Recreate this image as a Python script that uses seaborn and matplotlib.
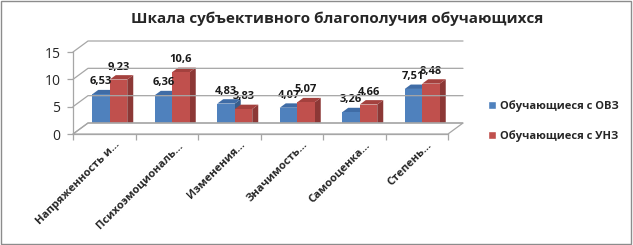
import numpy as np
import pandas as pd
import matplotlib
matplotlib.use("Agg")
import matplotlib.pyplot as plt
from matplotlib.patches import Polygon, Rectangle, Patch
from matplotlib.lines import Line2D
import matplotlib.transforms as mtransforms
import seaborn as sns

categories = ["Напряженность и...", "Психоэмоциональ...", "Изменения...",
              "Значимость...", "Самооценка...", "Степень..."]
series = ["Обучающиеся с ОВЗ", "Обучающиеся с УНЗ"]
ovz = [6.53, 6.36, 4.83, 4.07, 3.26, 7.51]
unz = [9.23, 10.6, 3.83, 5.07, 4.66, 8.48]
y_ticks = [0, 5, 10, 15]

BLUE, RED = "#4F81BD", "#C0504D"
SIDE = {BLUE: "#385D8A", RED: "#8C3836"}
TOP = {BLUE: "#3F6CA6", RED: "#A4413E"}
GRID = "#a6a6a6"

df = pd.DataFrame({
    "cat": categories * 2,
    "group": [series[0]] * len(ovz) + [series[1]] * len(unz),
    "value": ovz + unz,
})

sns.set_style("white")
plt.rcParams['font.family'] = ['Open Sans', 'DejaVu Sans']

fig = plt.figure(figsize=(6.33, 2.45), dpi=100)
ax = fig.add_axes([73 / 633, 1 - 134 / 245, 375 / 633, 82 / 245])
sns.barplot(data=df, x="cat", y="value", hue="group", palette=[BLUE, RED],
            width=0.56, ax=ax, legend=False, saturation=1, edgecolor="none")

xl, xr = -0.5, len(categories) - 0.5
ax.set_xlim(xl, xr)
ax.set_ylim(0, 15)
ax.patch.set_alpha(0)
fig.canvas.draw()

# 3D-ish walls: depth offsets in pixels
WD = np.array([15, 11])    # wall depth
BD = np.array([6, 4.4])    # bar depth
BO = np.array([5.5, 4])    # bars sit mid-depth on the floor
T = ax.transData
bar_shift = mtransforms.ScaledTranslation(BO[0] / 100, BO[1] / 100, fig.dpi_scale_trans)

for v in y_ticks:
    fl = T.transform((xl, v))
    bl = fl + WD
    br = T.transform((xr, v)) + WD
    pts = np.array([fl, bl, br])
    fig.add_artist(Line2D(pts[:, 0], pts[:, 1], transform=None, color=GRID, lw=0.9, zorder=0.5))

# floor
f0 = T.transform((xl, 0)); f1 = T.transform((xr, 0))
fig.add_artist(Polygon([f0, f1, f1 + WD, f0 + WD], closed=True, transform=None,
                       fc="white", ec=GRID, lw=0.9, zorder=0.4))

# bar fronts, sides and tops
for cont, col in zip(ax.containers, [BLUE, RED]):
    for bar in cont:
        x0, x1 = bar.get_x(), bar.get_x() + bar.get_width()
        h = bar.get_height()
        p10 = T.transform((x1, 0)) + BO
        p0h = T.transform((x0, h)) + BO
        p1h = T.transform((x1, h)) + BO
        side = Polygon([p10, p10 + BD, p1h + BD, p1h], closed=True, transform=None,
                       fc=SIDE[col], ec="none", zorder=0.9)
        top = Polygon([p0h, p1h, p1h + BD, p0h + BD], closed=True, transform=None,
                      fc=TOP[col], ec="none", zorder=0.9)
        ax.add_artist(side)
        ax.add_artist(top)
        side.set_clip_on(False); top.set_clip_on(False)
        bar.set_transform(T + bar_shift)
        bar.set_zorder(1)
        bar.set_clip_on(False)
        ax.annotate(str(h).replace(".", ","), (x0 + bar.get_width() / 2, h),
                    xytext=(BO[0] * 0.72, BO[1] * 0.72 + 9), textcoords="offset points",
                    ha="center", va="center", fontsize=8, fontweight="bold",
                    color="#1a1a1a", annotation_clip=False)

for s in ["top", "right"]:
    ax.spines[s].set_visible(False)
for s in ["left", "bottom"]:
    ax.spines[s].set_color(GRID)
    ax.spines[s].set_linewidth(0.9)

ax.set_yticks(y_ticks)
ax.tick_params(axis="y", length=4, color=GRID, width=0.9, labelsize=10, pad=5, left=True)
ax.set_xticks(np.arange(len(categories)))
ax.set_xticklabels(categories, rotation=45, ha="right", rotation_mode="anchor",
                   fontsize=8, fontweight="bold")
ax.tick_params(axis="x", length=0, pad=4)
ax.set_xticks(np.arange(len(categories) + 1) - 0.5, minor=True)
ax.tick_params(axis="x", which="minor", length=4, color=GRID, width=0.9, bottom=True)
off = mtransforms.ScaledTranslation(10 / 100, 0, fig.dpi_scale_trans)
for lbl in ax.get_xticklabels():
    lbl.set_transform(lbl.get_transform() + off)
ax.set_xlabel("")
ax.set_ylabel("")

handles = [Patch(facecolor=BLUE), Patch(facecolor=RED)]
fig.legend(handles, series, loc="center left", bbox_to_anchor=(478 / 633, 1 - 121 / 245),
           frameon=False, prop={"size": 8, "weight": "bold"}, handlelength=0.7,
           handleheight=0.7, handletextpad=0.4, labelspacing=1.6)

fig.text(337 / 633, 1 - 19 / 245, "Шкала субъективного благополучия обучающихся",
         ha="center", va="center", fontsize=11, fontweight="bold")

fig.add_artist(Rectangle((0.002, 0.004), 0.995, 0.99, transform=fig.transFigure,
                         fill=False, ec="#8c8c8c", lw=1))

fig.savefig("out.png", dpi=100)
